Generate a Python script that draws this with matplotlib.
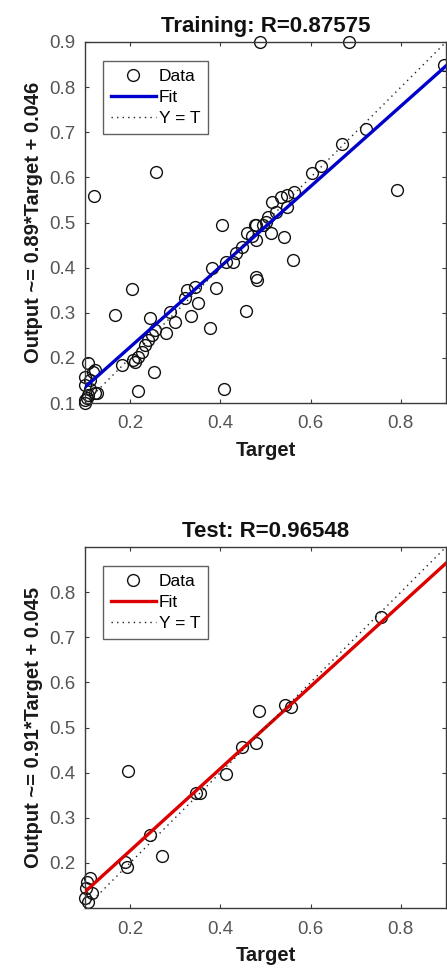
import matplotlib
matplotlib.use("Agg")
import matplotlib.pyplot as plt
import numpy as np
from matplotlib.lines import Line2D

plt.rcParams['font.family'] = ['Liberation Sans', 'DejaVu Sans']

# ---------------- data ----------------
train_target = [0.487, 0.686, 0.896, 0.258, 0.120, 0.792, 0.723, 0.670, 0.624, 0.604,
                0.515, 0.535, 0.548, 0.564, 0.548, 0.524, 0.502, 0.476,
                0.403, 0.480, 0.460, 0.480, 0.513, 0.542, 0.560, 0.480, 0.482, 0.457, 0.409,
                0.381, 0.413, 0.428, 0.435, 0.449, 0.470, 0.495, 0.505,
                0.391, 0.378, 0.325, 0.343, 0.321, 0.350, 0.336,
                0.288, 0.299, 0.279, 0.244, 0.204, 0.166,
                0.255, 0.248, 0.239, 0.233, 0.226, 0.217, 0.210, 0.182, 0.207,
                0.252, 0.218,
                0.107, 0.118, 0.100, 0.100, 0.122, 0.107, 0.100, 0.100, 0.122, 0.111, 0.127, 0.104, 0.112]
train_output = [0.900, 0.900, 0.849, 0.612, 0.559, 0.572, 0.707, 0.674, 0.625, 0.609,
                0.545, 0.557, 0.561, 0.568, 0.534, 0.523, 0.501, 0.494,
                0.494, 0.494, 0.477, 0.461, 0.477, 0.468, 0.417, 0.379, 0.373, 0.304, 0.131,
                0.399, 0.412, 0.412, 0.432, 0.446, 0.470, 0.495, 0.512,
                0.355, 0.266, 0.350, 0.357, 0.333, 0.322, 0.293,
                0.302, 0.280, 0.255, 0.288, 0.353, 0.295,
                0.262, 0.251, 0.240, 0.229, 0.213, 0.202, 0.191, 0.184, 0.195,
                0.169, 0.127,
                0.189, 0.169, 0.158, 0.140, 0.122, 0.118, 0.107, 0.100, 0.173, 0.151, 0.122, 0.110, 0.130]

test_target = [0.756, 0.485, 0.544, 0.557, 0.480, 0.449, 0.413, 0.347, 0.354, 0.196,
               0.245, 0.270, 0.188, 0.192, 0.111, 0.104, 0.115, 0.100, 0.107, 0.102]
test_output = [0.745, 0.537, 0.550, 0.545, 0.466, 0.457, 0.397, 0.355, 0.355, 0.404,
               0.262, 0.215, 0.202, 0.191, 0.166, 0.158, 0.133, 0.122, 0.113, 0.145]

train_slope, train_intercept = 0.89, 0.046
test_slope, test_intercept = 0.91, 0.045
train_R = "0.87575"
test_R = "0.96548"

axis_lim = [0.1, 0.9]
xticks = [0.2, 0.4, 0.6, 0.8]
train_yticks = [0.1, 0.2, 0.3, 0.4, 0.5, 0.6, 0.7, 0.8, 0.9]
test_yticks = [0.2, 0.3, 0.4, 0.5, 0.6, 0.7, 0.8]

# ---------------- figure ----------------
fig = plt.figure(figsize=(4.47, 9.73), dpi=100)
W, H = 447, 973

def pos(l, t, r, b):
    return [l / W, 1 - b / H, (r - l) / W, (b - t) / H]

ax1 = fig.add_axes(pos(85, 42, 446, 403))
ax2 = fig.add_axes(pos(85, 547, 446, 908))

TICK_COLOR = '#555555'
SPINE_COLOR = '#3a3a3a'
DOT = (0, (1, 3))

def draw(ax, t, o, slope, intercept, color, title, yticks):
    ax.plot(t, o, linestyle='none', marker='o', markersize=8.5, markerfacecolor='none',
            markeredgecolor='#111111', markeredgewidth=1.0, zorder=2, clip_on=False)
    xs = np.array(axis_lim)
    ax.plot(xs, slope * xs + intercept, color=color, linewidth=2.4, zorder=3)
    ax.plot(xs, xs, color='#222222', linestyle=DOT, linewidth=1.0, zorder=3)
    ax.set_xlim(axis_lim)
    ax.set_ylim(axis_lim)
    ax.set_xticks(xticks)
    ax.set_yticks(yticks)
    ax.set_xticklabels([f"{v:.1f}" for v in xticks])
    ax.set_yticklabels([f"{v:.1f}" for v in yticks])
    ax.tick_params(direction='in', length=3, width=0.8, colors=SPINE_COLOR,
                   labelcolor=TICK_COLOR, labelsize=13.5, top=True, right=True)
    ax.tick_params(axis='x', pad=9)
    ax.tick_params(axis='y', pad=7)
    for s in ax.spines.values():
        s.set_color(SPINE_COLOR)
        s.set_linewidth(1.0)
    ax.set_title(title, fontsize=16, fontweight='bold', color='#111111', pad=7)
    ax.set_xlabel('Target', fontsize=14.5, fontweight='bold', color='#1a1a1a', labelpad=6)
    ax.set_ylabel(f'Output ~= {slope:.2f}*Target + {intercept:.3f}',
                  fontsize=14.5, fontweight='bold', color='#1a1a1a')
    ax.yaxis.set_label_coords(-0.117, 0.5)
    handles = [
        Line2D([], [], linestyle='none', marker='o', markersize=8.5, markerfacecolor='none',
               markeredgecolor='#111111', markeredgewidth=1.0),
        Line2D([], [], color=color, linewidth=2.4),
        Line2D([], [], color='#222222', linestyle=DOT, linewidth=1.0),
    ]
    leg = ax.legend(handles, ['Data', 'Fit', 'Y = T'], loc='upper left',
                    bbox_to_anchor=(18 / 361, 1 - 19 / 361), borderaxespad=0,
                    fontsize=12.5, frameon=True, fancybox=False, handlelength=2.6,
                    handletextpad=0.15, borderpad=0.45, labelspacing=0.35)
    leg.get_frame().set_edgecolor(SPINE_COLOR)
    leg.get_frame().set_linewidth(1.0)

draw(ax1, train_target, train_output, train_slope, train_intercept, '#0000cc',
     f'Training: R={train_R}', train_yticks)
draw(ax2, test_target, test_output, test_slope, test_intercept, '#dd0000',
     f'Test: R={test_R}', test_yticks)

fig.savefig('out.png', dpi=100)
